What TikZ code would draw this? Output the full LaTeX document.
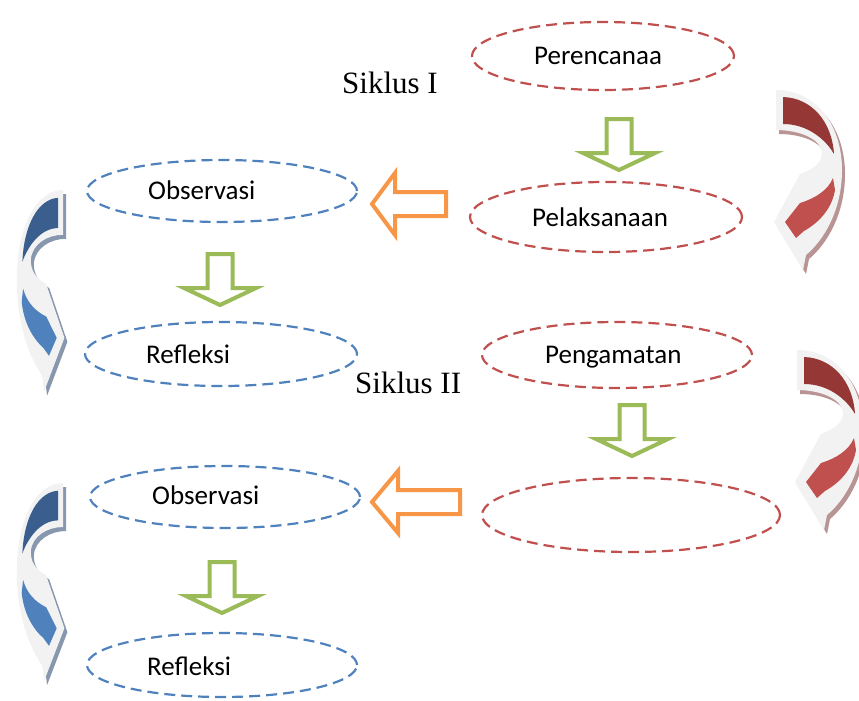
\documentclass[tikz,border=0pt]{standalone}
\usepackage{fontspec}
\setmainfont{Liberation Serif}
\newfontfamily\carlito{Carlito}
\usetikzlibrary{shapes.geometric}
\definecolor{redd}{HTML}{C0504D}
\definecolor{blued}{HTML}{4F81BD}
\definecolor{grn}{HTML}{9BBB59}
\definecolor{org}{HTML}{F79646}
\definecolor{redtop}{HTML}{953735}
\definecolor{bluetop}{HTML}{3A5F8F}
\definecolor{bevel}{HTML}{F2F2F2}
\definecolor{redshadow}{HTML}{B89494}
\definecolor{blueshadow}{HTML}{8797AD}
\newcommand\gdown[2]{% cx, top
  \draw[garrow] (#1-12.5,#2+2) -- (#1+12.5,#2+2) -- (#1+12.5,#2+36) -- (#1+36,#2+36) -- (#1,#2+53) -- (#1-36,#2+36) -- (#1-12.5,#2+36) -- cycle;}
\newcommand\oleft[4]{% tip x, center y, right x, head depth
  \draw[oarrow] (#1+2,#2) -- (#1+#4,#2-31) -- (#1+#4,#2-12) -- (#3-2,#2-12) -- (#3-2,#2+12) -- (#1+#4,#2+12) -- (#1+#4,#2+31) -- cycle;}
\newcommand\curvearr[7]{% x, y, xscale, yscale, top colour, bottom colour, shadow colour
  \begin{scope}[shift={(#1+3,#2+4)}, xscale=#3, yscale=#4]
    \fill[#7] (0,0) .. controls (40,0) and (66,35) .. (66,80) .. controls (66,120) and (48,150) .. (30,165) -- (27,180) -- (-2,132) -- (24,84) .. controls (40,78) and (46,72) .. (46,62) .. controls (44,48) and (22,40) .. (0,40) -- cycle;
  \end{scope}
  \begin{scope}[shift={(#1,#2)}, xscale=#3, yscale=#4]
    \fill[bevel] (0,0) .. controls (40,0) and (66,35) .. (66,80) .. controls (66,120) and (48,150) .. (30,165) -- (27,180) -- (-2,132) -- (24,84) .. controls (40,78) and (46,72) .. (46,62) .. controls (44,48) and (22,40) .. (0,40) -- cycle;
    \fill[#5] (7,7) .. controls (36,8) and (56,32) .. (58,64) .. controls (50,50) and (32,34) .. (7,34) -- cycle;
    \fill[#6] (57,88) .. controls (52,100) and (40,108) .. (24,113) -- (9,132) -- (20,148) -- (28,141) .. controls (44,132) and (56,118) .. (59,100) -- cycle;
  \end{scope}}
\begin{document}
\begin{tikzpicture}[x=1pt,y=-1pt,
  ell/.style={ellipse, draw, dash pattern=on 11pt off 6pt, line width=2.2pt, inner sep=0pt},
  redell/.style={ell, draw=redd},
  blueell/.style={ell, draw=blued},
  lbl/.style={font=\carlito\fontsize{27}{30}\selectfont, inner sep=0pt, anchor=base west},
  sik/.style={font=\fontsize{31}{34}\selectfont, inner sep=0pt, anchor=base west},
  garrow/.style={draw=grn, line width=4pt, fill=white, line join=miter},
  oarrow/.style={draw=org, line width=4pt, fill=white, line join=miter}]
\useasboundingbox (0,0) rectangle (859,701);
% ellipses
\node[redell, minimum width=262pt, minimum height=68pt] (per) at (603,56) {};
\node[redell, minimum width=272pt, minimum height=70pt] (pel) at (606,217) {};
\node[blueell, minimum width=270pt, minimum height=62pt] (obs1) at (222,191) {};
\node[blueell, minimum width=272pt, minimum height=64pt] (ref1) at (221,354) {};
\node[redell, minimum width=270pt, minimum height=66pt] (pen) at (617,355) {};
\node[redell, minimum width=298pt, minimum height=74pt] (emp) at (631,515) {};
\node[blueell, minimum width=270pt, minimum height=62pt] (obs2) at (225,497) {};
\node[blueell, minimum width=270pt, minimum height=64pt] (ref2) at (222,665) {};
% labels
\node[lbl] (tper) at (534,65) {Perencanaa};
\node[lbl] (tpel) at (532,226) {Pelaksanaan};
\node[lbl] (tobs1) at (148,199) {Observasi};
\node[lbl] (tref1) at (146,363) {Refleksi};
\node[lbl] (tpen) at (545,363) {Pengamatan};
\node[lbl] (tobs2) at (152,504) {Observasi};
\node[lbl] (tref2) at (147,675) {Refleksi};
\node[sik] (s1) at (342,93) {Siklus I};
\node[sik] (s2) at (355,393) {Siklus II};
% block arrows
\gdown{619}{117}
\gdown{220}{252}
\gdown{632}{403}
\gdown{222}{560}
\oleft{370}{204}{448}{25}
\oleft{370}{502}{462}{28}
% curved arrows
\curvearr{776}{90}{1}{1}{redtop}{redd}{redshadow}
\curvearr{797}{350}{1}{1}{redtop}{redd}{redshadow}
\curvearr{63}{190}{-0.7}{1.12}{bluetop}{blued}{blueshadow}
\curvearr{63}{483}{-0.7}{1.1}{bluetop}{blued}{blueshadow}
\end{tikzpicture}
\end{document}
